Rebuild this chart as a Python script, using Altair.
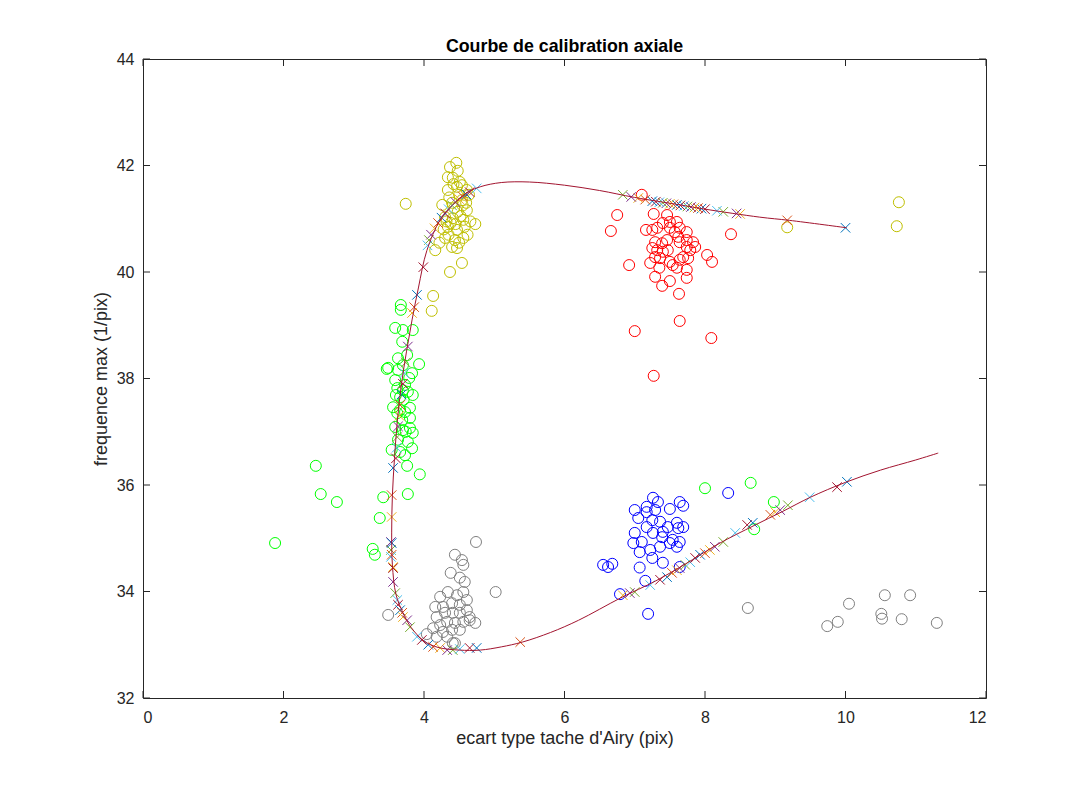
import altair as alt
import pandas as pd

# courbe de calibration (dans l'ordre du parcours)
courbe_x = [10.02, 9.2, 8.78, 8.0, 7.64, 7.0, 6.5, 6.0, 5.5, 5.1, 4.8, 4.6, 4.4, 4.23, 4.04,
            3.92, 3.83, 3.75, 3.68, 3.62, 3.58, 3.55, 3.54, 3.55, 3.6, 3.7, 3.82, 4.0, 4.2,
            4.5, 4.8, 5.1, 5.4, 5.8, 6.2, 6.8, 7.3, 7.7, 8.2, 8.7, 9.1, 9.5, 10.0, 10.5, 11.0, 11.32]
courbe_y = [40.83, 40.97, 41.03, 41.18, 41.26, 41.40, 41.53, 41.63, 41.69, 41.68, 41.6, 41.48,
            41.25, 40.98, 40.4, 39.7, 39.1, 38.5, 37.9, 37.2, 36.5, 35.8, 35.1, 34.5, 33.95,
            33.6, 33.32, 33.07, 32.95, 32.9, 32.9, 32.96, 33.05, 33.23, 33.46, 33.88, 34.2,
            34.5, 34.9, 35.24, 35.5, 35.77, 36.05, 36.28, 36.47, 36.6]

# mesures (cercles), par groupe
jaune_x = [4.37, 4.46, 4.34, 4.41, 4.51, 4.34, 4.47, 4.54, 4.61, 4.26, 4.40, 4.54, 4.61, 4.48,
           4.30, 4.41, 4.56, 4.73, 4.34, 4.47, 4.58, 4.30, 4.44, 4.56, 4.40, 4.47, 4.16, 4.54,
           4.37, 3.74, 4.13, 4.11, 10.76, 10.73, 9.17, 4.36, 4.50, 4.43, 4.52, 4.38, 4.62, 4.45,
           4.55, 4.28, 4.50, 4.64, 4.42, 4.48, 4.32, 4.66, 4.35, 4.60, 4.22]
jaune_y = [41.97, 42.05, 41.78, 41.77, 41.69, 41.54, 41.60, 41.63, 41.54, 41.26, 41.30, 41.35,
           41.16, 41.13, 41.03, 41.01, 40.98, 40.90, 40.85, 40.79, 40.85, 40.64, 40.60, 40.64,
           40.47, 40.45, 40.41, 40.17, 40.0, 41.28, 39.55, 39.27, 41.31, 40.86, 40.84, 41.4,
           41.45, 41.2, 41.05, 40.92, 40.7, 40.9, 41.25, 40.8, 40.55, 41.45, 41.65, 41.9,
           40.95, 40.95, 40.7, 41.3, 40.55]

vert_x = [1.88, 2.46, 2.53, 2.76, 3.27, 3.30, 3.37, 3.42, 3.77, 3.76, 3.94, 3.93, 3.49, 3.47,
          3.67, 3.67, 3.59, 8.0, 8.65, 8.98, 8.70, 3.70, 3.84, 3.69, 3.63, 3.76, 3.83, 3.62,
          3.70, 3.77, 3.84, 3.66, 3.73, 3.56, 3.66, 3.73, 3.80, 3.62, 3.59, 3.70, 3.80, 3.84,
          3.74, 3.54, 3.66, 3.73, 3.83, 3.63, 3.70, 3.59, 3.79, 3.69, 3.63, 3.77, 3.80, 3.60, 3.71]
vert_y = [34.91, 36.36, 35.83, 35.68, 34.80, 34.69, 35.38, 35.77, 35.83, 36.36, 36.20, 38.27,
          38.2, 38.18, 39.38, 39.29, 38.95, 35.94, 36.04, 35.68, 35.17, 38.91, 38.91, 38.69,
          38.38, 38.44, 38.10, 37.82, 37.78, 37.75, 37.69, 37.65, 37.88, 37.46, 37.41, 37.37,
          37.45, 37.35, 37.09, 37.03, 37.07, 36.98, 37.0, 36.66, 36.62, 36.56, 36.69, 38.16,
          38.25, 37.97, 38.01, 37.22, 36.85, 36.81, 37.26, 37.69, 37.6]

rouge_x = [7.10, 6.75, 6.66, 6.92, 7.0, 7.27, 7.64, 8.09, 8.37, 8.03, 8.10, 7.63, 7.39, 7.27,
           7.46, 7.16, 7.25, 7.32, 7.40, 7.50, 7.60, 7.64, 7.74, 7.50, 7.57, 7.62, 7.64, 7.74,
           7.83, 7.86, 7.79, 7.74, 7.29, 7.39, 7.46, 7.32, 7.25, 7.40, 7.47, 7.36, 7.29, 7.22,
           7.35, 7.50, 7.54, 7.64, 7.69, 7.76, 7.60, 7.74, 7.74, 7.50, 7.29]
rouge_y = [41.45, 41.07, 40.77, 40.13, 38.89, 38.05, 39.08, 38.76, 40.71, 40.32, 40.19, 39.59,
           39.74, 41.09, 41.07, 40.79, 40.79, 40.83, 40.92, 40.94, 40.94, 40.83, 40.75, 40.83,
           40.75, 40.66, 40.56, 40.60, 40.56, 40.47, 40.41, 40.47, 40.56, 40.54, 40.60, 40.41,
           40.45, 40.38, 40.41, 40.26, 40.28, 40.17, 40.08, 40.19, 40.13, 40.23, 40.28, 40.26,
           40.08, 40.04, 39.89, 39.83, 39.91]

bleu_x = [6.55, 6.62, 6.68, 6.79, 7.19, 7.15, 7.40, 7.07, 7.64, 8.33, 7.00, 7.17, 7.26, 7.33,
          7.29, 7.50, 7.64, 7.69, 7.05, 7.17, 7.00, 6.98, 7.10, 7.07, 7.22, 7.25, 7.36, 7.39,
          7.36, 7.47, 7.60, 7.69, 7.62, 7.54, 7.50, 7.60, 7.64, 7.26, 7.40, 7.25, 7.17]
bleu_y = [34.5, 34.46, 34.52, 33.95, 33.58, 34.2, 34.54, 34.45, 34.46, 35.85, 35.53, 35.59,
          35.76, 35.68, 35.53, 35.55, 35.68, 35.61, 35.38, 35.21, 35.10, 34.91, 34.93, 34.74,
          34.78, 34.63, 34.84, 35.02, 35.31, 35.21, 35.29, 35.21, 35.19, 34.97, 34.91, 34.84,
          34.93, 35.10, 35.12, 35.34, 35.49]

gris_x = [4.74, 4.44, 4.54, 4.56, 4.38, 4.51, 4.58, 5.02, 3.49, 4.41, 8.61, 9.74, 9.89, 10.05,
          10.51, 10.52, 10.56, 10.80, 10.92, 11.30, 4.23, 4.34, 4.47, 4.56, 4.61, 4.51, 4.40,
          4.27, 4.16, 4.18, 4.30, 4.41, 4.51, 4.61, 4.65, 4.73, 4.56, 4.44, 4.33, 4.23, 4.13,
          4.27, 4.40, 4.51, 4.04, 4.18, 4.44, 4.33, 4.65]
gris_y = [34.93, 34.69, 34.59, 34.50, 34.35, 34.26, 34.18, 33.99, 33.56, 33.03, 33.69, 33.35,
          33.43, 33.77, 33.58, 33.49, 33.93, 33.48, 33.93, 33.41, 33.90, 33.99, 33.93, 33.99,
          33.84, 33.75, 33.78, 33.71, 33.71, 33.52, 33.60, 33.60, 33.60, 33.65, 33.46, 33.41,
          33.43, 33.41, 33.43, 33.37, 33.31, 33.24, 33.28, 33.28, 33.20, 33.15, 33.03, 33.15, 33.52]

# points calibres (croix) sur la courbe
croix_x = [10.0, 9.17, 8.5, 8.45, 8.26, 8.17, 8.0, 7.95, 7.9, 7.85, 7.8, 7.75, 7.7, 7.65, 7.6,
           7.55, 7.5, 7.45, 7.4, 7.35, 7.3, 7.25, 7.15, 7.05, 6.95, 6.83,
           4.75, 4.65, 4.6, 4.55, 4.5, 4.45, 4.4, 4.35, 4.3, 4.25, 4.2, 4.15, 4.1, 4.07, 4.05,
           3.99, 3.90, 3.86, 3.83, 3.77, 3.74, 3.72, 3.70, 3.68, 3.66, 3.65, 3.63, 3.62, 3.61,
           3.60, 3.56, 3.54, 3.54, 3.53, 3.53, 3.53, 3.56, 3.54, 3.54, 3.56, 3.56, 3.59, 3.62,
           3.63, 3.66, 3.69, 3.70, 3.76, 3.80, 3.90, 3.97, 4.06, 4.13, 4.23, 4.33, 4.41, 4.51,
           4.65, 4.75, 5.37, 6.83, 6.93, 7.0, 7.22, 7.36, 7.46, 7.53, 7.60, 7.64, 7.72, 7.79,
           7.86, 7.93, 8.0, 8.07, 8.14, 8.26, 8.43, 8.60, 8.68, 8.93, 9.0, 9.07, 9.18, 9.49,
           9.88, 10.02]
croix_y = [40.83, 40.97, 41.09, 41.10, 41.13, 41.15, 41.18, 41.19, 41.2, 41.21, 41.22, 41.23,
           41.24, 41.25, 41.26, 41.27, 41.28, 41.29, 41.30, 41.31, 41.32, 41.33, 41.36, 41.39,
           41.41, 41.45,
           41.57, 41.50, 41.46, 41.42, 41.37, 41.31, 41.25, 41.18, 41.1, 41.02, 40.92, 40.82,
           40.7, 40.6, 40.5, 40.09, 39.57, 39.34, 39.23, 38.6, 38.3, 38.1, 37.9, 37.7, 37.5,
           37.3, 37.1, 36.9, 36.7, 36.5, 36.32, 35.81, 35.40, 34.93, 34.78, 34.65, 34.44, 34.91,
           34.69, 34.46, 34.18, 33.97, 33.84, 33.75, 33.65, 33.60, 33.52, 33.46, 33.33, 33.15,
           33.09, 33.0, 32.96, 32.94, 32.90, 32.90, 32.92, 32.94, 32.94, 33.05, 33.93, 33.97,
           33.99, 34.12, 34.22, 34.27, 34.35, 34.40, 34.44, 34.50, 34.55, 34.63, 34.69, 34.72,
           34.78, 34.84, 34.93, 35.1, 35.25, 35.29, 35.44, 35.49, 35.53, 35.62, 35.77, 35.96, 36.06]

ticks_x = [0, 2, 4, 6, 8, 10, 12]
ticks_y = [32, 34, 36, 38, 40, 42, 44]

groupes = ['jaune', 'vert', 'rouge', 'bleu', 'gris']
series = ['s1', 's2', 's3', 's4', 's5', 's6', 's7']
couleurs = ['#BFBF00', '#00FF00', '#FF0000', '#0000FF', '#808080',
            '#0072BD', '#D95319', '#EDB120', '#7E2F8E', '#77AC30', '#4DBEEE', '#A2142F']

mesures = pd.concat([
    pd.DataFrame({'x': jaune_x, 'y': jaune_y, 'g': 'jaune'}),
    pd.DataFrame({'x': vert_x, 'y': vert_y, 'g': 'vert'}),
    pd.DataFrame({'x': rouge_x, 'y': rouge_y, 'g': 'rouge'}),
    pd.DataFrame({'x': bleu_x, 'y': bleu_y, 'g': 'bleu'}),
    pd.DataFrame({'x': gris_x, 'y': gris_y, 'g': 'gris'}),
])
croix = pd.DataFrame({'x': croix_x, 'y': croix_y})
croix['g'] = [series[i % 7] for i in range(len(croix))]
courbe = pd.DataFrame({'x': courbe_x, 'y': courbe_y, 'ordre': range(len(courbe_x))})

W, H = 843, 639
encre = '#262626'
sx = alt.Scale(domain=[0, 12], nice=False, zero=False)
sy = alt.Scale(domain=[32, 44], nice=False, zero=False)
ax = alt.Axis(values=ticks_x, title="ecart type tache d'Airy (pix)", grid=False, ticks=False,
              domain=False, labelPadding=11, titlePadding=4)
ay = alt.Axis(values=ticks_y, title='frequence max (1/pix)', grid=False, ticks=False,
              domain=False, labelPadding=9, titlePadding=6)
X = alt.X('x:Q', scale=sx, axis=ax)
Y = alt.Y('y:Q', scale=sy, axis=ay)
coul = alt.Color('g:N', scale=alt.Scale(domain=groupes + series, range=couleurs), legend=None)

cercles = alt.Chart(mesures).mark_point(shape='circle', filled=False, size=121, strokeWidth=1,
                                         opacity=1).encode(x=X, y=Y, color=coul)
croix_pts = alt.Chart(croix).mark_point(shape='M-1,-1L1,1M-1,1L1,-1', filled=False, size=90,
                                        strokeWidth=1, opacity=1).encode(x=X, y=Y, color=coul)
ligne = alt.Chart(courbe).mark_line(color='#A2142F', strokeWidth=1,
                                    interpolate='catmull-rom').encode(x=X, y=Y, order='ordre:Q')

# graduations vers l'interieur, sur les quatre cotes
tx = pd.DataFrame({'x': ticks_x})
ty = pd.DataFrame({'y': ticks_y})
tick_bas = alt.Chart(tx).mark_rule(color=encre).encode(x=X, y=alt.value(H - 7), y2=alt.value(H))
tick_haut = alt.Chart(tx).mark_rule(color=encre).encode(x=X, y=alt.value(0), y2=alt.value(7))
tick_g = alt.Chart(ty).mark_rule(color=encre).encode(y=Y, x=alt.value(0), x2=alt.value(7))
tick_d = alt.Chart(ty).mark_rule(color=encre).encode(y=Y, x=alt.value(W - 7), x2=alt.value(W))

chart = alt.layer(cercles, croix_pts, ligne, tick_bas, tick_haut, tick_g, tick_d).properties(
    width=W, height=H,
    title=alt.TitleParams('Courbe de calibration axiale', font='Liberation Sans', fontSize=17.8,
                          fontWeight='bold', color='#000000', offset=4, baseline='bottom', dy=27),
    autosize=alt.AutoSizeParams(type='none'),
    padding={'left': 135, 'top': 51, 'right': 95, 'bottom': 79},
).configure_view(
    stroke=encre, strokeWidth=1
).configure_axis(
    labelFont='Liberation Sans', labelFontSize=16, labelColor=encre,
    titleFont='Liberation Sans', titleFontSize=18, titleColor=encre, titleFontWeight='normal'
)

chart.save("out.html", embed_options={"renderer": "svg", "actions": False})
